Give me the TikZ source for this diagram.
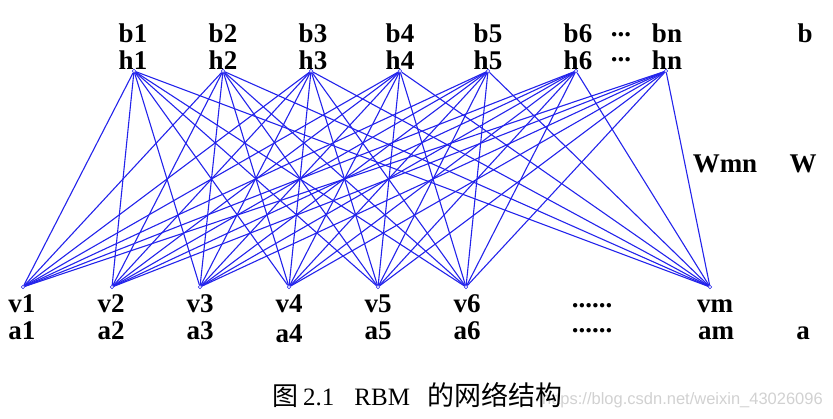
\documentclass[tikz,border=0pt]{standalone}
\usepackage{fontspec}
\setmainfont{Liberation Serif}
\newfontfamily\cjk{Noto Sans CJK SC}
\newfontfamily\wmfont{Liberation Sans}
\definecolor{netblue}{RGB}{35,35,235}
\begin{document}
\begin{tikzpicture}[x=1pt,y=-1pt,
  lbl/.style={font=\fontsize{27}{30}\selectfont\bfseries, inner sep=0pt, anchor=base},
  unit/.style={circle, draw=netblue, fill=white, inner sep=0pt, minimum size=3.6pt, line width=0.6pt},
  edge/.style={draw=netblue, line width=1.1pt}]
\path[use as bounding box] (0,0) rectangle (833,418);
% units
\foreach \n/\x in {1/134,2/223,3/311,4/400,5/488,6/576,n/666}
  \node[unit] (h\n) at (\x,71) {};
\foreach \n/\x in {1/23,2/112,3/200,4/289,5/378,6/466,m/710}
  \node[unit] (v\n) at (\x,287) {};
% weights
\foreach \i in {1,2,3,4,5,6,n}
  \foreach \j in {1,2,3,4,5,6,m}
    \draw[edge] (h\i) -- (v\j);
% top labels
\foreach \n/\x in {1/133,2/223,3/313,4/400,5/488,6/578,n/667} {
  \node[lbl] (lb\n) at (\x,42) {b\n};
  \node[lbl] (lh\n) at (\x,69) {h\n};
}
\node[lbl] (bdots) at (621,36) {...};
\node[lbl] (hdots) at (621,61) {...};
\node[lbl] (lb) at (805,42) {b};
% middle labels
\node[lbl] (lw) at (725,172) {Wmn};
\node[lbl] (lW) at (803,172) {W};
% bottom labels
\foreach \n/\x in {1/22,2/111,3/200,4/289,5/378,6/467,m/715}
  \node[lbl] (lv\n) at (\x,312) {v\n};
\foreach \n/\x/\y in {1/22/339,2/111/339,3/200/339,4/289/342,5/378/339,6/467/339,m/716/339}
  \node[lbl] (la\n) at (\x,\y) {a\n};
\node[lbl] (vdots) at (592,307) {......};
\node[lbl] (adots) at (592,332) {......};
\node[lbl] (la) at (803,339) {a};
% watermark and caption
\node[font=\wmfont\fontsize{16.5}{19}\selectfont, text=black!18, anchor=east, inner sep=0pt] (wm) at (823,400) {https://blog.csdn.net/weixin\_43026096};
\node[font=\fontsize{25}{28}\selectfont, anchor=base west, inner sep=0pt] (cap) at (272,405)
  {{\cjk\fontsize{26}{28}\selectfont 图}\hspace{5pt}2.1\hspace{20pt}RBM\hspace{17pt}{\cjk\fontsize{27}{29}\selectfont 的网络结构}};
\end{tikzpicture}
\end{document}
